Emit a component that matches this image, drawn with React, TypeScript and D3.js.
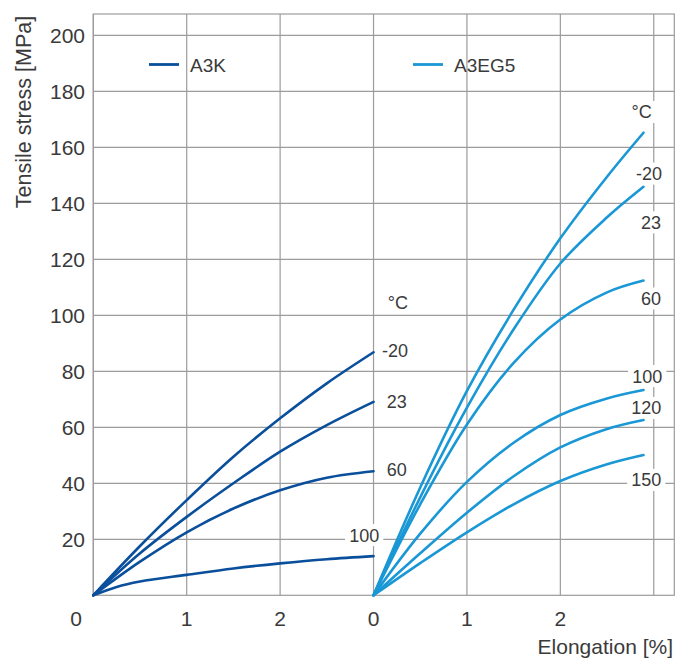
import React from "react";
import * as d3 from "d3";

// ---- data ----
const xTickValues = [0, 1, 2, 3, 4, 5, 6];
const xTickLabels = ["0", "1", "2", "0", "1", "2", ""];
const yTickValues = [20, 40, 60, 80, 100, 120, 140, 160, 180, 200];

const a3kX = [0, 0.5, 1, 1.5, 2, 2.5, 3];
const a3kX100 = [0, 0.25, 0.5, 1, 1.5, 2, 2.5, 3];
const a3kM20 = [0, 17.6, 34, 49.5, 63.2, 75.7, 86.8];
const a3k23 = [0, 15, 28, 40, 51.3, 60.8, 69.1];
const a3k60 = [0, 12, 22.5, 31, 37.5, 42, 44.3];
const a3k100 = [0, 3.0, 4.9, 7.3, 9.6, 11.4, 12.9, 14];

const eg5X = [0, 0.5, 1, 1.5, 2, 2.5, 2.89];
const eg5M20 = [0, 38.5, 73, 102, 127.5, 149.5, 165.2];
const eg523 = [0, 35, 67, 95, 118.5, 135, 145.9];
const eg560 = [0, 32.5, 61, 83, 98.5, 108.2, 112.4];
const eg5100 = [0, 22, 40.5, 54.5, 64.4, 70.3, 73.3];
const eg5120 = [0, 15, 29.5, 42.5, 52.8, 59.4, 62.6];
const eg5150 = [0, 11.5, 22.5, 32.5, 40.8, 46.8, 50.1];

const seriesNames = ["A3K", "A3EG5"];
const leftLabels = ["°C", "-20", "23", "60", "100"];
const leftLabelX = [3.26, 3.23, 3.25, 3.25, 2.90];
const leftLabelY = [104.5, 87.3, 69.1, 44.8, 21.5];
const rightLabels = ["°C", "-20", "23", "60", "100", "120", "150"];
const rightLabelX = [5.87, 5.95, 5.97, 5.97, 5.93, 5.92, 5.92];
const rightLabelY = [172.6, 150.6, 133.2, 106, 78.3, 66.9, 41.2];

const X_OFFSET = 3;
const DARK = "#0a4f9c";
const LIGHT = "#1a97d5";
const FONT = "'Liberation Sans', Arial, sans-serif";
const TEXT = "#3a3a3a";
const GRID = "#9c9c9c";

export default function App() {
  const W = 689, H = 666;
  const x = d3.scaleLinear().domain([0, 6.22]).range([93.3, 674.3]);
  const y = d3.scaleLinear().domain([0, 207.6]).range([595.3, 14]);
  const line = d3
    .line<[number, number]>()
    .x((d) => x(d[0]))
    .y((d) => y(d[1]))
    .curve(d3.curveCatmullRom.alpha(0.5));

  const leftSeries = [
    { xs: a3kX, ys: a3kM20 },
    { xs: a3kX, ys: a3k23 },
    { xs: a3kX, ys: a3k60 },
    { xs: a3kX100, ys: a3k100 },
  ];
  const rightSeries = [eg5M20, eg523, eg560, eg5100, eg5120, eg5150].map((ys) => ({
    xs: eg5X.map((v) => v + X_OFFSET),
    ys,
  }));

  const labelFs = 18;
  const renderLabel = (t: string, lx: number, ly: number, key: string) => {
    const cx = x(lx);
    const cy = y(ly);
    const w = t.length * labelFs * 0.56 + 8;
    const h = labelFs + 4;
    return (
      <g key={key}>
        <rect x={cx - w / 2} y={cy - h / 2} width={w} height={h} fill="#fff" />
        <text
          x={cx}
          y={cy + labelFs * 0.36}
          textAnchor="middle"
          fontSize={labelFs}
          fill={TEXT}
          fontFamily={FONT}
        >
          {t}
        </text>
      </g>
    );
  };

  return (
    <svg
      width={W}
      height={H}
      style={{ position: "absolute", left: 0, top: 0, background: "#fff" }}
    >
      {/* grid */}
      {yTickValues.map((v) => (
        <line key={"gy" + v} x1={x(0)} x2={x(6.22)} y1={y(v)} y2={y(v)} stroke={GRID} strokeWidth={1.2} />
      ))}
      {xTickValues.map((v) => (
        <line key={"gx" + v} x1={x(v)} x2={x(v)} y1={y(0)} y2={y(207.6)} stroke={GRID} strokeWidth={1.2} />
      ))}
      <rect
        x={x(0)}
        y={y(207.6)}
        width={x(6.22) - x(0)}
        height={y(0) - y(207.6)}
        fill="none"
        stroke={GRID}
        strokeWidth={1.2}
      />

      {/* labels with white backgrounds */}
      {leftLabels.map((t, i) => renderLabel(t, leftLabelX[i], leftLabelY[i], "ll" + i))}
      {rightLabels.map((t, i) => renderLabel(t, rightLabelX[i], rightLabelY[i], "rl" + i))}

      {/* curves */}
      {leftSeries.map((s, i) => (
        <path
          key={"l" + i}
          d={line(s.xs.map((xv, j) => [xv, s.ys[j]] as [number, number])) || ""}
          fill="none"
          stroke={DARK}
          strokeWidth={2.6}
          strokeLinecap="round"
        />
      ))}
      {rightSeries.map((s, i) => (
        <path
          key={"r" + i}
          d={line(s.xs.map((xv, j) => [xv, s.ys[j]] as [number, number])) || ""}
          fill="none"
          stroke={LIGHT}
          strokeWidth={2.6}
          strokeLinecap="round"
        />
      ))}

      {/* y ticks */}
      {yTickValues.map((v) => (
        <text key={"ty" + v} x={85} y={y(v) + 8} textAnchor="end" fontSize={21} fill={TEXT} fontFamily={FONT}>
          {v}
        </text>
      ))}
      {/* x ticks */}
      {xTickValues.map((v, i) =>
        xTickLabels[i] ? (
          <text
            key={"tx" + v}
            x={i === 0 ? 76 : x(v)}
            y={626}
            textAnchor="middle"
            fontSize={21}
            fill={TEXT}
            fontFamily={FONT}
          >
            {xTickLabels[i]}
          </text>
        ) : null
      )}

      {/* axis titles */}
      <text
        transform="translate(31,112) rotate(-90)"
        textAnchor="middle"
        fontSize={21.5}
        fill={TEXT}
        fontFamily={FONT}
      >
        Tensile stress [MPa]
      </text>
      <text x={673} y={654} textAnchor="end" fontSize={21} fill={TEXT} fontFamily={FONT}>
        Elongation [%]
      </text>

      {/* legend */}
      {seriesNames.map((n, i) => {
        const lx = i === 0 ? 149 : 413;
        return (
          <g key={"lg" + i}>
            <line x1={lx} x2={lx + 30} y1={64.5} y2={64.5} stroke={i === 0 ? DARK : LIGHT} strokeWidth={2.8} />
            <text x={lx + 41} y={72.3} fontSize={19} fill={TEXT} fontFamily={FONT}>
              {n}
            </text>
          </g>
        );
      })}
    </svg>
  );
}
